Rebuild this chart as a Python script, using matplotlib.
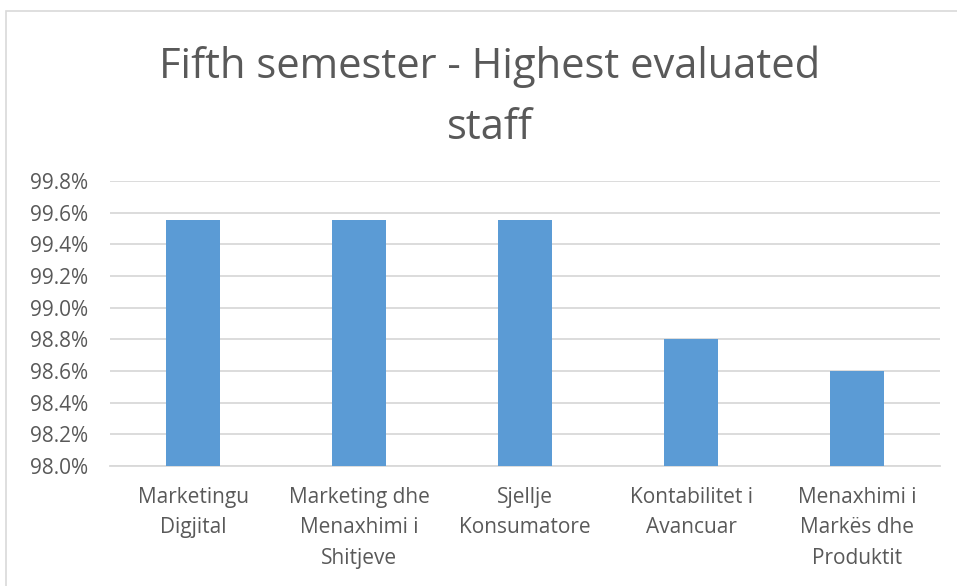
import matplotlib.pyplot as plt
from matplotlib.patches import Rectangle
from matplotlib.ticker import FuncFormatter

# Data
categories = ['Marketingu\nDigjital', 'Marketing dhe\nMenaxhimi i\nShitjeve',
              'Sjellje\nKonsumatore', 'Kontabilitet i\nAvancuar',
              'Menaxhimi i\nMarkës dhe\nProduktit']
scores = [99.555, 99.555, 99.555, 98.80, 98.60]
y_ticks = [98.0, 98.2, 98.4, 98.6, 98.8, 99.0, 99.2, 99.4, 99.6, 99.8]

text_grey = '#595959'
bar_blue = '#5B9BD5'
grid_grey = '#D9D9D9'

plt.rcParams['font.family'] = ['Open Sans', 'DejaVu Sans']

W, H = 957, 586
fig = plt.figure(figsize=(W / 100, H / 100), dpi=100)
ax = fig.add_axes([110 / W, 1 - 466 / H, 830 / W, (466 - 181) / H])

x = range(len(categories))
ax.bar(x, [s - 98.0 for s in scores], bottom=98.0, width=0.32, color=bar_blue, zorder=3)

ax.set_ylim(98.0, 99.8)
ax.set_xlim(-0.5, len(categories) - 0.5)
ax.set_yticks(y_ticks)
ax.yaxis.set_major_formatter(FuncFormatter(lambda v, p: f'{v:.1f}%'))
ax.set_xticks(list(x))
ax.set_xticklabels(categories, linespacing=1.6, va='top', fontsize=15)

ax.tick_params(axis='both', length=0, colors=text_grey)
ax.tick_params(axis='y', labelsize=15, pad=16)
ax.tick_params(axis='x', pad=15)
ax.grid(axis='y', color=grid_grey, linewidth=1.3, zorder=0)
for side in ['top', 'right', 'left']:
    ax.spines[side].set_visible(False)
ax.spines['bottom'].set_color(grid_grey)
ax.spines['bottom'].set_linewidth(1.3)

fig.text(490 / W, 1 - 97 / H, 'Fifth semester - Highest evaluated\nstaff', ha='center', va='center',
         fontsize=30, color=text_grey, linespacing=1.6)

# chart frame
fig.patches.append(Rectangle((6 / W, -0.1), 1.0, 1 - 11 / H + 0.1, transform=fig.transFigure,
                             fill=False, edgecolor=grid_grey, linewidth=1.2))

fig.savefig('out.png', dpi=100)
